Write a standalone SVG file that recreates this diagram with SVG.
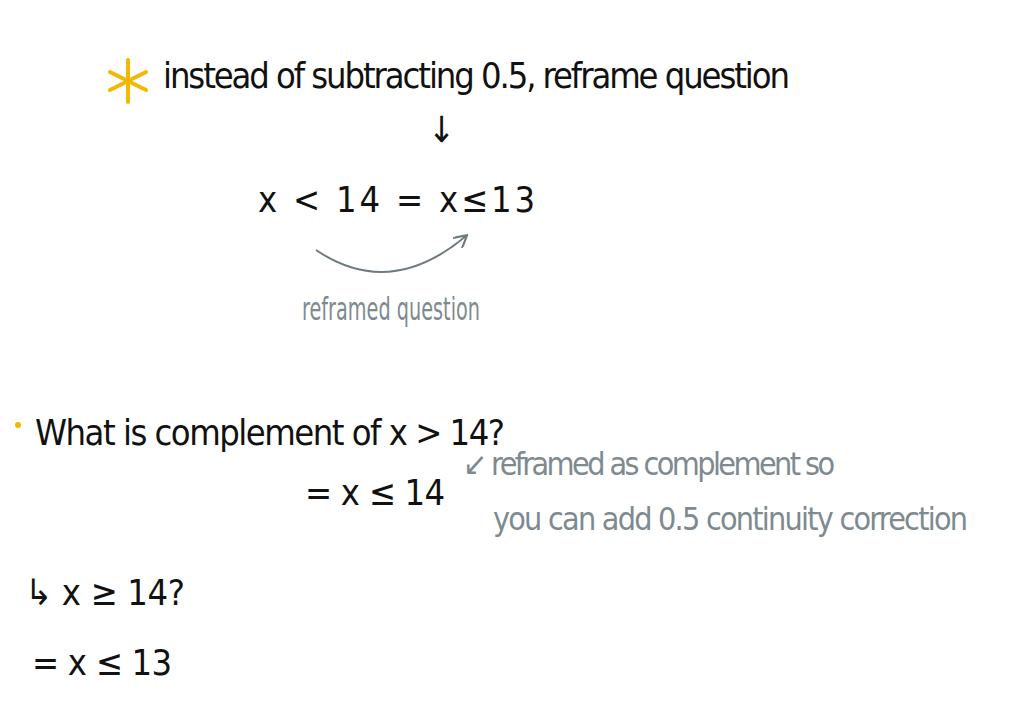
<svg xmlns="http://www.w3.org/2000/svg" width="1015" height="706" viewBox="0 0 1015 706">
<style>
text{font-family:"DejaVu Sans Condensed","DejaVu Sans",sans-serif;font-weight:200}
.k{fill:#111;font-size:36px}
.g{fill:#7d8a90;font-size:32px}
</style>
<defs><marker id="ah" viewBox="0 0 10 10" refX="8" refY="5" markerWidth="7" markerHeight="7" orient="auto"><path d="M0,0 L9,5 L0,10" fill="none" stroke="#6e7a80" stroke-width="1.5"/></marker></defs>
<rect width="1015" height="706" fill="#fff"/>
<g id="star" stroke="#f5b800" stroke-width="4" stroke-linecap="round">
<line x1="128" y1="60" x2="128" y2="102"/><line x1="110" y1="72" x2="146" y2="90"/><line x1="110" y1="90" x2="146" y2="72"/>
</g>
<g id="title"><text class="k" x="163" y="88" textLength="627">instead of subtracting 0.5, reframe question</text></g>
<g id="down"><text class="k" x="428" y="142" font-size="30">↓</text></g>
<g id="eq1"><text class="k" x="258" y="212" textLength="277">x &lt; 14 = x≤13</text></g>
<g id="connectors"><path d="M316,250 Q390,300 466,236" fill="none" stroke="#6e7a80" stroke-width="2" marker-end="url(#ah)"/></g>
<g id="lbl1"><text class="g" x="302" y="320" font-size="28" textLength="178" lengthAdjust="spacingAndGlyphs">reframed question</text></g>
<circle cx="18" cy="425" r="3" fill="#f5b800"/>
<g id="q"><text class="k" x="35" y="445" textLength="470">What is complement of x &gt; 14?</text></g>
<g id="a"><text class="k" x="305" y="505" textLength="140">= x ≤ 14</text></g>
<g id="note"><text class="g" x="463" y="475" textLength="372">↙ reframed as complement so</text>
<text class="g" x="493" y="530" textLength="475">you can add 0.5 continuity correction</text></g>
<g id="q2"><text class="k" x="25" y="605" textLength="160">↳ x ≥ 14?</text></g>
<g id="a2"><text class="k" x="32" y="675" textLength="140">= x ≤ 13</text></g>
</svg>
